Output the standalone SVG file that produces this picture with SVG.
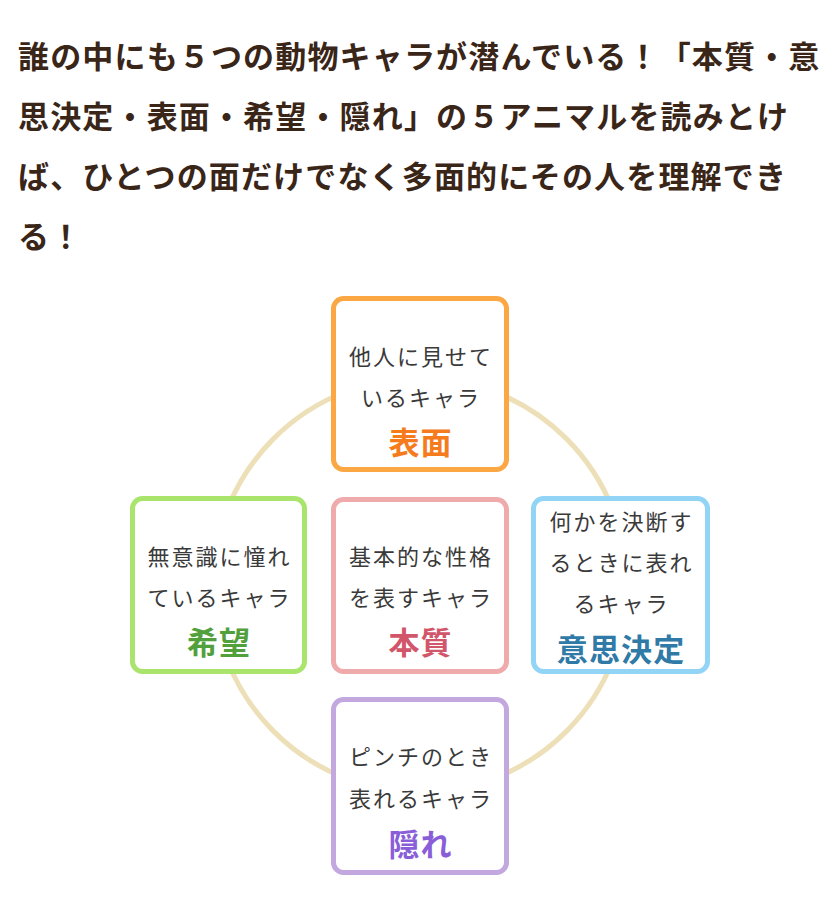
<svg xmlns="http://www.w3.org/2000/svg" width="840" height="923" viewBox="0 0 840 923">
<style>
.hd{font-family:"Noto Sans CJK JP","Noto Sans",sans-serif;font-size:31px;font-weight:700;fill:#3a2618;letter-spacing:1.16px}
.bx{fill:#fff;stroke-width:5}
.tx{font-family:"Noto Sans CJK JP","Noto Sans",sans-serif;font-size:22px;fill:#3a3a3a;letter-spacing:2px;text-anchor:middle}
.tt{font-family:"Noto Sans CJK JP","Noto Sans",sans-serif;font-size:31px;font-weight:700;letter-spacing:1.2px;text-anchor:middle}
</style>
<rect width="840" height="923" fill="#fff"/>
<g id="header">
<text class="hd" x="18" y="68">誰の中にも５つの動物キャラが潜んでいる！「本質・意</text>
<text class="hd" x="18" y="128">思決定・表面・希望・隠れ」の５アニマルを読みとけ</text>
<text class="hd" x="18" y="188">ば、ひとつの面だけでなく多面的にその人を理解でき</text>
<text class="hd" x="18" y="248">る！</text>
</g>
<g id="connectors">
<circle cx="420" cy="585" r="207" fill="none" stroke="#ede0b8" stroke-width="5"/>
</g>
<g id="hyomen">
<rect class="bx" x="333.5" y="298.5" width="173" height="171" rx="10" stroke="#fba844"/>
<text class="tx" x="421" y="365">他人に見せて</text>
<text class="tx" x="421" y="406">いるキャラ</text>
<text class="tt" x="420.6" y="454" fill="#f57b1c">表面</text>
</g>
<g id="kibou">
<rect class="bx" x="132.5" y="498.5" width="172" height="173" rx="10" stroke="#a9e46c"/>
<text class="tx" x="219.5" y="565">無意識に憧れ</text>
<text class="tx" x="219.5" y="606">ているキャラ</text>
<text class="tt" x="219.1" y="654" fill="#52a03c">希望</text>
</g>
<g id="honshitsu">
<rect class="bx" x="333.5" y="499.5" width="173" height="172" rx="10" stroke="#efaaac"/>
<text class="tx" x="421" y="565">基本的な性格</text>
<text class="tx" x="421" y="606">を表すキャラ</text>
<text class="tt" x="420.6" y="654" fill="#d2566a">本質</text>
</g>
<g id="ishikettei">
<rect class="bx" x="533.5" y="498.5" width="174" height="173" rx="10" stroke="#92d4f6"/>
<text class="tx" x="621.5" y="530">何かを決断す</text>
<text class="tx" x="621.5" y="571">るときに表れ</text>
<text class="tx" x="621.5" y="612">るキャラ</text>
<text class="tt" x="621.1" y="661" fill="#2f7aa6">意思決定</text>
</g>
<g id="kakure">
<rect class="bx" x="333.5" y="699.5" width="173" height="173" rx="10" stroke="#c3a7df"/>
<text class="tx" x="421" y="765">ピンチのとき</text>
<text class="tx" x="421" y="807">表れるキャラ</text>
<text class="tt" x="420.6" y="856" fill="#8a5ed9">隠れ</text>
</g>
</svg>
